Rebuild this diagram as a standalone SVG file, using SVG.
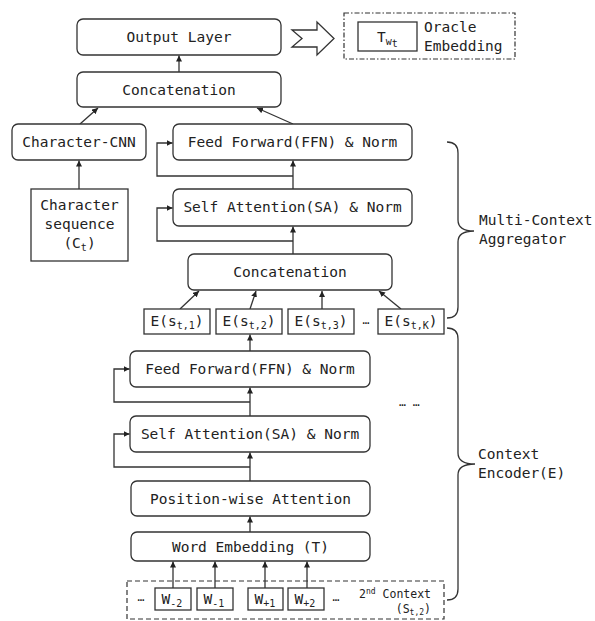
<svg xmlns="http://www.w3.org/2000/svg" width="595" height="621" viewBox="0 0 595 621">
<style>
text{font-family:"DejaVu Sans Mono","Liberation Mono",monospace;font-size:14.5px;fill:#222}
.c{text-anchor:middle}
.box{fill:#fff;stroke:#333;stroke-width:1.3}
.ln{fill:none;stroke:#333;stroke-width:1.3}
.sub{font-size:10px}
.sm{font-size:11.5px}
</style>
<defs>
<marker id="ah" markerUnits="userSpaceOnUse" markerWidth="7" markerHeight="6" refX="6" refY="3" orient="auto">
<path d="M0,0 L6,3 L0,6 z" fill="#222"/>
</marker>
</defs>
<rect width="595" height="621" fill="#fff"/>

<g id="connectors" class="ln" marker-end="url(#ah)">
<line x1="179" y1="72" x2="179" y2="55.5"/>
<line x1="80" y1="124" x2="98" y2="108"/>
<line x1="293" y1="124" x2="257" y2="108"/>
<line x1="79" y1="189" x2="79" y2="160.5"/>
<line x1="293" y1="189" x2="293" y2="160.5"/>
<polyline points="293,176 157,176 157,143 172.5,143"/>
<line x1="293" y1="254" x2="293" y2="226.5"/>
<polyline points="293,241 157,241 157,208 172.5,208"/>
<line x1="180" y1="309" x2="199" y2="291"/>
<line x1="250" y1="309" x2="256" y2="291"/>
<line x1="322" y1="309" x2="322" y2="291"/>
<line x1="401" y1="309" x2="379" y2="291"/>
<line x1="250" y1="351" x2="250" y2="334.5"/>
<line x1="250" y1="416" x2="250" y2="387.5"/>
<polyline points="250,402 114,402 114,369 129.5,369"/>
<line x1="250" y1="481" x2="250" y2="452.5"/>
<polyline points="250,467 114,467 114,434 129.5,434"/>
<line x1="250" y1="532" x2="250" y2="516.5"/>
<line x1="173" y1="588" x2="173" y2="561.5"/>
<line x1="215" y1="588" x2="215" y2="561.5"/>
<line x1="265" y1="588" x2="265" y2="561.5"/>
<line x1="307" y1="588" x2="307" y2="561.5"/>
</g>

<g id="output-layer"><rect class="box" x="77" y="19" width="204" height="36" rx="6"/><text class="c" x="179" y="42">Output Layer</text></g>
<g id="hollow-arrow"><path class="ln" d="M292,30 L317,30 L317,22 L334,38.5 L317,55 L317,47 L292,47 L302,38.5 Z" fill="#fff"/></g>
<g id="oracle"><rect x="344" y="13" width="171" height="46" fill="none" stroke="#333" stroke-width="1.2" stroke-dasharray="5,2,1.5,2"/>
<rect class="box" x="358" y="22" width="59" height="29"/>
<text x="377" y="42">T<tspan class="sub" dy="3">w</tspan><tspan class="sub" font-size="8" dy="2">t</tspan></text>
<text x="424" y="32">Oracle</text><text x="424" y="51">Embedding</text></g>

<g id="concat-top"><rect class="box" x="77" y="72" width="204" height="35" rx="6"/><text class="c" x="179" y="94.5">Concatenation</text></g>
<g id="char-cnn"><rect class="box" x="12" y="124" width="134" height="36" rx="6"/><text class="c" x="79" y="147">Character-CNN</text></g>
<g id="char-seq"><rect class="box" x="31" y="189" width="97" height="72"/>
<text class="c" x="79.5" y="210">Character</text><text class="c" x="79.5" y="229">sequence</text>
<text class="c" x="79.5" y="248">(C<tspan class="sub" dy="3">t</tspan><tspan dy="-3">)</tspan></text></g>

<g id="ffn-top"><rect class="box" x="173" y="124" width="239" height="36" rx="6"/><text class="c" x="292.5" y="147">Feed Forward(FFN) &amp; Norm</text></g>
<g id="sa-top"><rect class="box" x="173" y="189" width="239" height="37" rx="6"/><text class="c" x="292.5" y="212">Self Attention(SA) &amp; Norm</text></g>
<g id="concat-mid"><rect class="box" x="188" y="254" width="204" height="36" rx="6"/><text class="c" x="290" y="277">Concatenation</text></g>

<g id="e1"><rect class="box" x="144" y="309" width="66" height="25"/><text class="c" x="177" y="326">E(s<tspan class="sub" dy="3">t,1</tspan><tspan dy="-3">)</tspan></text></g>
<g id="e2"><rect class="box" x="216" y="309" width="66" height="25"/><text class="c" x="249" y="326">E(s<tspan class="sub" dy="3">t,2</tspan><tspan dy="-3">)</tspan></text></g>
<g id="e3"><rect class="box" x="288" y="309" width="66" height="25"/><text class="c" x="321" y="326">E(s<tspan class="sub" dy="3">t,3</tspan><tspan dy="-3">)</tspan></text></g>
<text class="c sm" x="366" y="324">…</text>
<g id="ek"><rect class="box" x="378" y="309" width="66" height="25"/><text class="c" x="411" y="326">E(s<tspan class="sub" dy="3">t,K</tspan><tspan dy="-3">)</tspan></text></g>

<g id="ffn-bottom"><rect class="box" x="130" y="351" width="240" height="36" rx="6"/><text class="c" x="250" y="374">Feed Forward(FFN) &amp; Norm</text></g>
<text class="sm" x="399" y="406">… …</text>
<g id="sa-bottom"><rect class="box" x="130" y="416" width="240" height="36" rx="6"/><text class="c" x="250" y="439">Self Attention(SA) &amp; Norm</text></g>
<g id="pos-att"><rect class="box" x="131" y="481" width="239" height="35" rx="6"/><text class="c" x="250.5" y="503.5">Position-wise Attention</text></g>
<g id="word-emb"><rect class="box" x="131" y="532" width="239" height="29" rx="6"/><text class="c" x="250.5" y="551.5">Word Embedding (T)</text></g>

<g id="context2"><rect x="127" y="581" width="317" height="38" fill="none" stroke="#333" stroke-width="1.2" stroke-dasharray="5,3"/>
<text class="c sm" x="141" y="601">…</text>
<text class="c sm" x="336" y="601">…</text>
<text class="sm" x="431" y="598" text-anchor="end">2<tspan font-size="8" dy="-4">nd</tspan><tspan dy="4"> Context</tspan></text>
<text class="sm" x="431" y="613" text-anchor="end">(S<tspan font-size="8" dy="2">t,2</tspan><tspan dy="-2">)</tspan></text></g>
<g id="w-2"><rect class="box" x="155" y="588" width="36" height="22"/><text class="c" x="172" y="604">W<tspan class="sub" dy="3">-2</tspan></text></g>
<g id="w-1"><rect class="box" x="197" y="588" width="36" height="22"/><text class="c" x="214" y="604">W<tspan class="sub" dy="3">-1</tspan></text></g>
<g id="w+1"><rect class="box" x="248" y="588" width="35" height="22"/><text class="c" x="265" y="604">W<tspan class="sub" dy="3">+1</tspan></text></g>
<g id="w+2"><rect class="box" x="288" y="588" width="36" height="22"/><text class="c" x="305" y="604">W<tspan class="sub" dy="3">+2</tspan></text></g>

<g id="brace-mca"><path class="ln" d="M447,142 Q458,142 458,153 L458,220 Q458,231 474,231 Q458,231 458,242 L458,307 Q458,318 447,318"/>
<text x="479" y="225">Multi-Context</text><text x="479" y="244">Aggregator</text></g>
<g id="brace-ce"><path class="ln" d="M447,328 Q458,328 458,339 L458,453 Q458,464 475,464 Q458,464 458,475 L458,589 Q458,600 447,600"/>
<text x="478" y="459">Context</text><text x="478" y="478">Encoder(E)</text></g>
</svg>
